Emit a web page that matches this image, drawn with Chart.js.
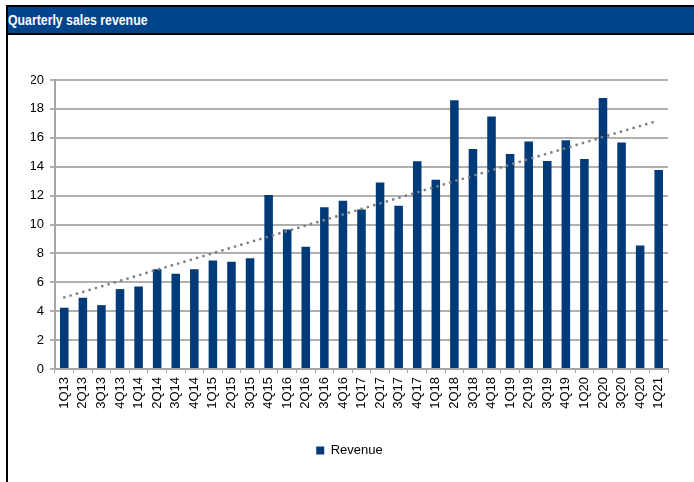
<!DOCTYPE html>
<html>
<head>
<meta charset="utf-8">
<script src="https://cdn.jsdelivr.net/npm/chart.js@4/dist/chart.umd.min.js"></script>
<style>
  html, body { margin: 0; padding: 0; background: #fff; }
  #wrap { position: relative; width: 694px; height: 482px; overflow: hidden; font-family: "Liberation Sans", Arial, sans-serif; }
  #header { position: absolute; left: 6px; top: 5px; width: 700px; height: 26px; background: #00448b;
            border-top: 2px solid #000; border-bottom: 2px solid #000; }
  #header span { position: absolute; left: 2px; top: 4px; color: #fff; font-weight: bold; font-size: 15px;
                 transform: scaleX(0.82); transform-origin: left center; white-space: nowrap; }
  #leftline { position: absolute; left: 6px; top: 5px; width: 2px; height: 480px; background: #000; }
  #chart { position: absolute; left: 0; top: 35px; }
</style>
</head>
<body>
<div id="wrap">
  <div id="header"><span>Quarterly sales revenue</span></div>
  <div id="leftline"></div>
  <canvas id="chart" width="694" height="447"></canvas>
</div>
<script>
// quarters on the x axis
const quarters = ['1Q13','2Q13','3Q13','4Q13','1Q14','2Q14','3Q14','4Q14','1Q15','2Q15','3Q15',
  '4Q15','1Q16','2Q16','3Q16','4Q16','1Q17','2Q17','3Q17','4Q17','1Q18','2Q18','3Q18','4Q18',
  '1Q19','2Q19','3Q19','4Q19','1Q20','2Q20','3Q20','4Q20','1Q21'];

// revenue per quarter
const revenue = [4.24, 4.93, 4.42, 5.53, 5.71, 6.91, 6.59, 6.91, 7.51, 7.42, 7.67,
  12.05, 9.65, 8.46, 11.2, 11.64, 11.04, 12.9, 11.29, 14.38, 13.09, 18.6, 15.23, 17.47,
  14.88, 15.74, 14.4, 15.83, 14.54, 18.76, 15.67, 8.55, 13.78];

// linear trend line: value at first and last quarter
const trendEnds = [4.95, 17.2];

const yTicks = [0, 2, 4, 6, 8, 10, 12, 14, 16, 18, 20];

const trendData = quarters.map((q, i) =>
  i === 0 ? trendEnds[0] : (i === quarters.length - 1 ? trendEnds[1] : null));

const fontFam = '"Liberation Sans", Arial, sans-serif';

new Chart(document.getElementById('chart'), {
  type: 'bar',
  data: {
    labels: quarters,
    datasets: [
      {
        label: 'Revenue',
        data: revenue,
        backgroundColor: '#003a78',
        barPercentage: 0.46,
        categoryPercentage: 1,
        order: 1
      },
      {
        type: 'line',
        label: 'Trend',
        data: trendData,
        spanGaps: true,
        borderColor: '#808080',
        borderWidth: 2.8,
        borderDash: [0, 6.6],
        borderCapStyle: 'round',
        pointRadius: 0,
        fill: false,
        order: 0
      }
    ]
  },
  options: {
    responsive: false,
    devicePixelRatio: 1,
    animation: false,
    layout: { padding: { left: 31, right: 26, top: 45, bottom: 15 } },
    plugins: {
      tooltip: { enabled: false },
      legend: {
        position: 'bottom',
        labels: {
          boxWidth: 8, boxHeight: 8, padding: 10,
          color: '#000',
          font: { family: fontFam, size: 13 },
          filter: item => item.datasetIndex === 0
        }
      }
    },
    scales: {
      x: {
        grid: { display: true, drawOnChartArea: false, drawTicks: true, tickLength: 4, color: '#a6a6a6', offset: true },
        border: { color: '#a6a6a6', width: 2 },
        ticks: { color: '#000', font: { family: fontFam, size: 13 }, minRotation: 90, maxRotation: 90, autoSkip: false, padding: 4 },
        afterFit: s => { s.height = 65; }
      },
      y: {
        min: 0, max: 20,
        afterBuildTicks: s => { s.ticks = yTicks.map(v => ({ value: v })); },
        grid: { color: '#b0b0b0', lineWidth: 2, tickLength: 5 },
        border: { color: '#a6a6a6', width: 2 },
        ticks: { color: '#000', font: { family: fontFam, size: 13 }, padding: 6 },
        afterFit: s => { s.width = 24; }
      }
    }
  }
});
</script>
</body>
</html>
